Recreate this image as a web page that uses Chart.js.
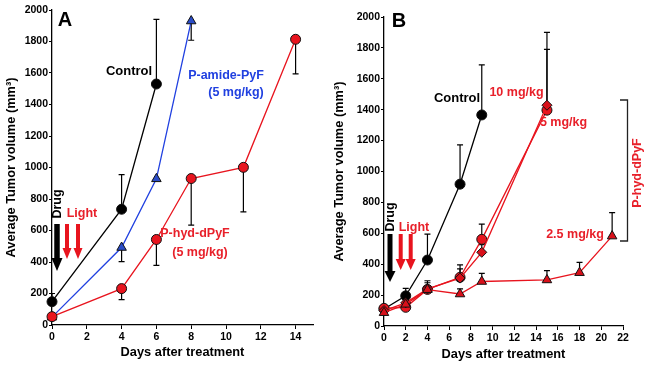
<!DOCTYPE html>
<html><head><meta charset="utf-8">
<script src="https://cdn.jsdelivr.net/npm/chart.js@4"></script>
<style>
html,body{margin:0;padding:0;background:#fff;width:651px;height:368px;overflow:hidden}
#ca{position:absolute;left:0;top:0}
#cb{position:absolute;left:330px;top:0}
</style></head><body>
<canvas id="ca" width="330" height="368"></canvas>
<canvas id="cb" width="321" height="368"></canvas>
<script>
// ---------- Panel A data ----------
const aControlDays = [0, 4, 6];
const aControlVol  = [148, 735, 1530];
const aControlErr  = [52, 220, 410];          // upward bars
const aAmideDays   = [0, 4, 6, 8];
const aAmideVol    = [50, 492, 928, 1930];
const aAmideErr    = [0, 90, 0, 122];          // downward bars
const aHydDays     = [0, 4, 6, 8, 11, 14];
const aHydVol      = [53, 231, 543, 930, 1001, 1814];
const aHydErr      = [0, 70, 165, 296, 283, 220]; // downward bars
// ---------- Panel B data ----------
const bControlDays = [0, 2, 4, 7, 9];
const bControlVol  = [110, 195, 427, 918, 1366];
const bControlErr  = [0, 48, 168, 254, 324];
const b10Days      = [0, 2, 4, 7, 9, 15];
const b10Vol       = [100, 150, 240, 310, 477, 1429];
const b10Err       = [0, 0, 40, 60, 50, 471];
const b5Days       = [0, 2, 4, 7, 9, 15];
const b5Vol        = [114, 121, 237, 315, 561, 1397];
const b5Err        = [0, 0, 56, 80, 99, 393];
const b25Days      = [0, 2, 4, 7, 9, 15, 18, 21];
const b25Vol       = [86, 140, 235, 207, 288, 298, 345, 582];
const b25Err       = [0, 0, 0, 33, 53, 60, 67, 152];
// ---------- axes ----------
const yTickStep = 200, yMax = 2000;
const aXMax = 15, bXMax = 22, xTickStep = 2;

const FONT = '"Liberation Sans", Arial, sans-serif';
const RED = '#e8141e', RED_TXT = '#e8202a', BLUE = '#2040e0', BLUE_FILL = '#2a4cc8';
Chart.defaults.font.family = FONT;
Chart.defaults.color = '#000';

function pts(xs, ys){ return xs.map((x,i)=>({x:x, y:ys[i]})); }

function ds(label, xs, ys, errs, dir, color, fill, style, r){
  return {label, data: pts(xs, ys), errs, errDir: dir, clip: false,
    borderColor: color, borderWidth: 1.3, backgroundColor: fill,
    pointStyle: style, pointRadius: r, pointHoverRadius: r,
    pointBackgroundColor: fill, pointBorderColor: '#111', pointBorderWidth: 1,
    tension: 0, fill: false};
}

function drawArrow(ctx, x, y0, y1, shaftW, headW, headL, color){
  ctx.save(); ctx.fillStyle = color;
  ctx.fillRect(x - shaftW/2, y0, shaftW, (y1 - headL) - y0 + 0.5);
  ctx.beginPath(); ctx.moveTo(x - headW/2, y1 - headL); ctx.lineTo(x + headW/2, y1 - headL);
  ctx.lineTo(x, y1); ctx.closePath(); ctx.fill(); ctx.restore();
}
function text(ctx, s, x, y, size, color, rot){
  ctx.save(); ctx.font = 'bold ' + size + 'px ' + FONT; ctx.fillStyle = color;
  ctx.textAlign = 'center'; ctx.textBaseline = 'middle';
  ctx.translate(x, y); if (rot) ctx.rotate(rot); ctx.fillText(s, 0, 0); ctx.restore();
}

function makePlugin(annot){
  return {
    id: 'overlay',
    beforeDatasetsDraw(chart){
      const ctx = chart.ctx, xs = chart.scales.x, ys = chart.scales.y;
      ctx.save(); ctx.strokeStyle = '#000'; ctx.lineWidth = 1.2;
      chart.data.datasets.forEach(d => {
        d.data.forEach((p, i) => {
          const e = d.errs[i]; if (!e) return;
          const px = xs.getPixelForValue(p.x);
          const py0 = ys.getPixelForValue(p.y);
          const py1 = ys.getPixelForValue(p.y + d.errDir * e);
          ctx.beginPath(); ctx.moveTo(px, py0); ctx.lineTo(px, py1);
          ctx.moveTo(px - 3, py1); ctx.lineTo(px + 3, py1); ctx.stroke();
        });
      });
      ctx.restore();
    },
    afterDraw(chart){ annot(chart.ctx); }
  };
}

function scales(xMax, yW, xH, yTitlePad, xTitlePad){
  const tickFont = {size: 10.5, weight: 'bold', family: FONT};
  const titleFont = {size: 12.8, weight: 'bold', family: FONT};
  return {
    x: {type: 'linear', min: 0, max: xMax,
      ticks: {stepSize: xTickStep, includeBounds: false, font: tickFont, color: '#000', padding: 2,
        callback: v => String(v)},
      afterBuildTicks(s){ s.ticks = s.ticks.filter(t => t.value % xTickStep === 0); },
      grid: {drawOnChartArea: false, drawTicks: true, tickLength: 4, color: '#000', lineWidth: 1},
      border: {color: '#000', width: 1.3},
      title: {display: true, text: 'Days after treatment', font: titleFont, color: '#000', padding: {top: 0, bottom: xTitlePad}},
      afterFit(s){ s.height = xH; }
    },
    y: {type: 'linear', min: 0, max: yMax,
      ticks: {stepSize: yTickStep, font: tickFont, color: '#000', padding: 1,
        callback: v => String(v)},
      grid: {drawOnChartArea: false, drawTicks: true, tickLength: 3, color: '#000', lineWidth: 1},
      border: {color: '#000', width: 1.3},
      title: {display: true, text: 'Average Tumor volume (mm³)', font: titleFont, color: '#000', padding: {top: yTitlePad, bottom: 0}},
      afterFit(s){ s.width = yW; }
    }
  };
}

const common = {responsive: false, animation: false, events: [],
  plugins: {legend: {display: false}, tooltip: {enabled: false}}};

// ---------- Chart A ----------
new Chart(document.getElementById('ca'), {
  type: 'line',
  data: {datasets: [
    ds('P-hyd-dPyF (5 mg/kg)', aHydDays, aHydVol, aHydErr, -1, RED, RED, 'circle', 5),
    ds('P-amide-PyF (5 mg/kg)', aAmideDays, aAmideVol, aAmideErr, -1, BLUE, BLUE_FILL, 'triangle', 5.5),
    ds('Control', aControlDays, aControlVol, aControlErr, 1, '#000', '#000', 'circle', 5)
  ]},
  options: Object.assign({}, common, {
    layout: {padding: {top: 10, right: 17, left: 0, bottom: 0}},
    scales: scales(aXMax, 52, 43, 4, 8)
  }),
  plugins: [makePlugin(ctx => {
    text(ctx, 'A', 65, 20, 20, '#000');
    text(ctx, 'Control', 129, 71, 13, '#000');
    text(ctx, 'P-amide-PyF', 226, 76, 12.5, BLUE);
    text(ctx, '(5 mg/kg)', 236, 93, 12.5, BLUE);
    text(ctx, 'P-hyd-dPyF', 195, 234, 12.5, RED_TXT);
    text(ctx, '(5 mg/kg)', 200, 253, 12.5, RED_TXT);
    text(ctx, 'Drug', 58, 204, 12.5, '#000', -Math.PI/2);
    text(ctx, 'Light', 82, 214, 12.5, RED_TXT);
    drawArrow(ctx, 57, 224, 271, 5.5, 11, 13, '#000');
    drawArrow(ctx, 67, 224, 259, 4, 9, 11, RED);
    drawArrow(ctx, 78, 224, 259, 4, 9, 11, RED);
  })]
});

// ---------- Chart B ----------
new Chart(document.getElementById('cb'), {
  type: 'line',
  data: {datasets: [
    ds('2.5 mg/kg', b25Days, b25Vol, b25Err, 1, RED, '#d8101a', 'triangle', 5.5),
    ds('10 mg/kg', b10Days, b10Vol, b10Err, 1, RED, '#d8101a', 'rectRot', 5),
    ds('5 mg/kg', b5Days, b5Vol, b5Err, 1, RED, '#e8141e', 'circle', 5),
    ds('Control', bControlDays, bControlVol, bControlErr, 1, '#000', '#000', 'circle', 5)
  ]},
  options: Object.assign({}, common, {
    layout: {padding: {top: 17, right: 28, left: 0, bottom: 0}},
    scales: scales(bXMax, 54, 42, 2, 6)
  }),
  plugins: [makePlugin(ctx => {
    text(ctx, 'B', 69, 21, 20, '#000');
    text(ctx, 'Control', 127, 98, 13, '#000');
    text(ctx, '10 mg/kg', 186.5, 93, 12.5, RED_TXT);
    text(ctx, '5 mg/kg', 233.5, 123, 12.5, RED_TXT);
    text(ctx, '2.5 mg/kg', 245, 235, 12.5, RED_TXT);
    text(ctx, 'P-hyd-dPyF', 308, 173, 12.5, RED_TXT, -Math.PI/2);
    ctx.save(); ctx.strokeStyle = '#222'; ctx.lineWidth = 1.3;
    ctx.beginPath(); ctx.moveTo(290, 100); ctx.lineTo(297.5, 100); ctx.lineTo(297.5, 241); ctx.lineTo(290, 241); ctx.stroke();
    ctx.restore();
    text(ctx, 'Drug', 60.5, 217, 12.5, '#000', -Math.PI/2);
    text(ctx, 'Light', 84, 228, 12.5, RED_TXT);
    drawArrow(ctx, 60, 234, 282, 5, 11, 11, '#000');
    drawArrow(ctx, 70.7, 234, 270, 4, 10, 11, RED);
    drawArrow(ctx, 80.7, 234, 270, 4, 10, 11, RED);
  })]
});
</script>
</body></html>
